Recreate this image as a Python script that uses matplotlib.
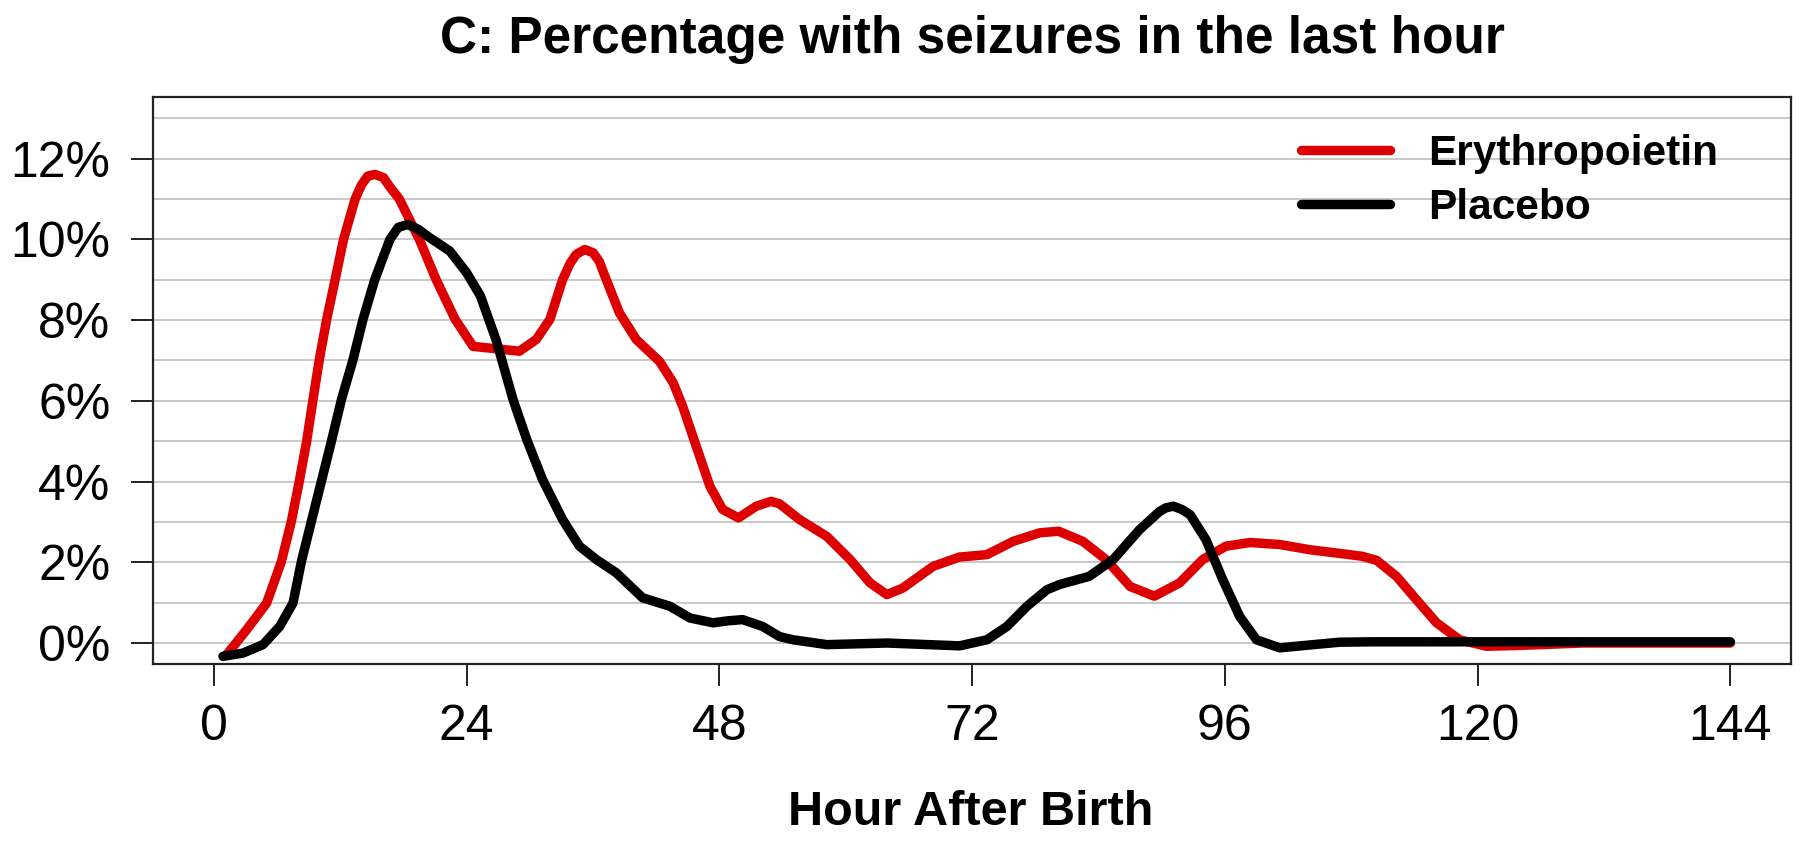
import matplotlib
matplotlib.use("Agg")
import matplotlib.pyplot as plt

plt.rcParams['font.family'] = ['Liberation Sans', 'DejaVu Sans']

# hours after birth / percent with seizures in last hour
epo_hour = [1.2, 3.1, 5.0, 6.4, 7.35, 8.1, 8.8, 9.4, 10.0, 10.7, 11.5, 12.3, 13.4, 14.0,
            14.6, 15.3, 16.1, 16.7, 17.6, 19.5, 21.1, 22.9, 24.6, 26.8, 29.0, 30.6, 31.9,
            33.1, 33.8, 34.4, 35.2, 36.0, 36.6, 37.0, 38.5, 40.1, 42.3, 43.6, 44.5, 45.8,
            47.1, 48.3, 49.8, 51.5, 52.9, 53.7, 55.6, 58.2, 60.4, 62.3, 63.9, 65.4, 68.3,
            70.8, 73.4, 75.9, 78.4, 80.2, 82.5, 84.7, 87.0, 89.3, 91.7, 93.9, 96.1, 98.4,
            101.2, 104.1, 106.9, 109.0, 110.4, 112.3, 114.2, 116.1, 118.3, 120.8, 124.0,
            130.0, 144.0]
epo_pct = [-0.29, 0.33, 0.99, 2.02, 3.02, 4.01, 5.0, 6.03, 7.02, 8.02, 9.0, 10.0, 11.0, 11.35,
           11.57, 11.61, 11.53, 11.3, 11.0, 10.0, 9.0, 8.02, 7.35, 7.29, 7.23, 7.52, 8.02,
           9.0, 9.4, 9.63, 9.75, 9.67, 9.45, 9.17, 8.18, 7.52, 6.98, 6.45, 5.87, 4.87,
           3.88, 3.31, 3.10, 3.39, 3.51, 3.45, 3.06, 2.64, 2.07, 1.49, 1.20, 1.36, 1.90,
           2.13, 2.19, 2.52, 2.73, 2.77, 2.52, 2.07, 1.40, 1.16, 1.49, 2.07, 2.40, 2.49,
           2.44, 2.31, 2.22, 2.15, 2.05, 1.65, 1.07, 0.50, 0.08, -0.08, -0.06,
           0.0, 0.0]

pbo_hour = [0.85, 2.75, 4.65, 6.24, 7.5, 8.3, 9.25, 10.2, 11.15, 12.1, 13.2, 14.15, 15.26,
            16.7, 17.5, 18.4, 19.4, 20.5, 22.4, 24.0, 25.3, 26.8, 28.4, 29.7, 31.2, 33.1,
            34.7, 36.3, 38.2, 40.7, 43.3, 45.2, 47.4, 48.8, 50.2, 52.1, 53.7, 55.0, 58.2,
            63.9, 70.8, 73.4, 75.3, 77.2, 79.1, 80.3, 83.1, 85.4, 87.9, 89.8, 90.4, 91.1,
            91.9, 92.7, 94.2, 95.8, 97.4, 99.0, 101.2, 104.4, 106.9, 110.0, 144.0]
pbo_pct = [-0.33, -0.25, -0.04, 0.41, 0.99, 2.02, 3.02, 4.01, 5.0, 6.03, 7.02, 8.02, 9.0,
           10.0, 10.3, 10.37, 10.25, 10.04, 9.71, 9.17, 8.6, 7.5, 6.03, 5.04, 4.05, 3.06,
           2.40, 2.07, 1.74, 1.12, 0.91, 0.62, 0.50, 0.55, 0.58, 0.41, 0.16, 0.08, -0.04,
           0.0, -0.07, 0.08, 0.41, 0.91, 1.32, 1.45, 1.65, 2.07, 2.81, 3.26, 3.35, 3.39,
           3.31, 3.18, 2.56, 1.57, 0.66, 0.08, -0.12, -0.04, 0.02, 0.03, 0.03]

x_ticks = [0, 24, 48, 72, 96, 120, 144]
y_ticks = [0, 2, 4, 6, 8, 10, 12]
y_labels = ["0%", "2%", "4%", "6%", "8%", "10%", "12%"]

fig = plt.figure(figsize=(18, 8.42), dpi=100)
ax = fig.add_axes([0.0852, 0.2114, 0.9098, 0.673])

for g in range(0, 14):
    ax.axhline(g, color='#c8c8c8', lw=1.4, zorder=1)

ax.plot(epo_hour, epo_pct, color='#dd0000', lw=6.8, solid_capstyle='round',
        solid_joinstyle='round', label='Erythropoietin', zorder=3)
ax.plot(pbo_hour, pbo_pct, color='black', lw=6.8, solid_capstyle='round',
        solid_joinstyle='round', label='Placebo', zorder=4)

ax.set_xlim(-5.76, 149.76)
ax.set_ylim(-0.52, 13.52)
ax.set_xticks(x_ticks)
ax.set_yticks(y_ticks)
ax.set_yticklabels(y_labels)
ax.tick_params(axis='both', length=16, width=1.4, labelsize=36, color='#222222')
ax.tick_params(axis='x', pad=13)
ax.tick_params(axis='y', pad=15)
for s in ax.spines.values():
    s.set_linewidth(1.6)
    s.set_color('#222222')

leg = ax.legend(loc='upper left', bbox_to_anchor=(0.701, 0.935), frameon=False,
                prop={'weight': 'bold', 'size': 30.5}, handlelength=2.1,
                handletextpad=0.9, labelspacing=0.33, borderpad=0, borderaxespad=0)

fig.text(0.54, 0.953, "C: Percentage with seizures in the last hour", ha='center',
         va='center', fontsize=37, fontweight='bold')
fig.text(0.539, 0.0356, "Hour After Birth", ha='center', va='center', fontsize=35,
         fontweight='bold')

fig.savefig("out.png", dpi=100)
